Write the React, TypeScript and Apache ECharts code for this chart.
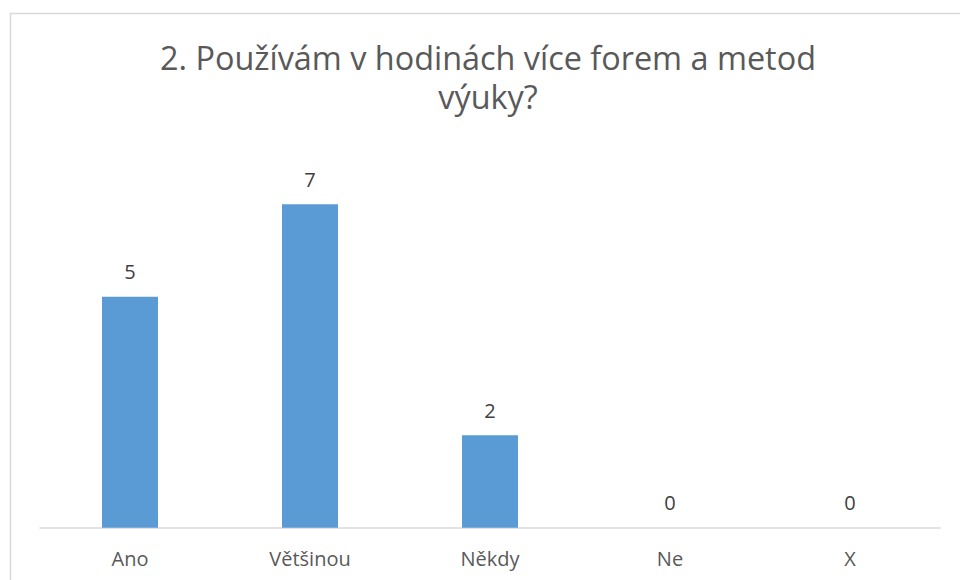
import React, { useEffect, useRef } from "react";
import * as echarts from "echarts";

const titleLines = ["2. Používám v hodinách více forem a metod", "výuky?"];
const categories = ["Ano", "Většinou", "Někdy", "Ne", "X"];
const values = [5, 7, 2, 0, 0];

export default function App() {
  const ref = useRef<HTMLDivElement>(null);
  useEffect(() => {
    document.body.style.margin = "0";
    const chart = echarts.init(ref.current!, null, { renderer: "svg" });
    const titleStyle = {
      fontFamily: "Open Sans",
      fontSize: 32.4,
      fontWeight: "normal",
      color: "#595959",
      lineHeight: 34,
    };
    chart.setOption({
      animation: false,
      backgroundColor: "#ffffff",
      title: titleLines.map((t, i) => ({
        text: t,
        left: 488,
        textAlign: "center",
        top: 39.5 + i * 39.8,
        padding: 0,
        textStyle: titleStyle,
      })),
      graphic: [
        {
          type: "rect",
          shape: { x: 10.5, y: 13.5, width: 1000, height: 1000 },
          style: { fill: "none", stroke: "#d9d9d9", lineWidth: 1.5 },
          silent: true,
          z: -1,
        },
      ],
      grid: { left: 40, right: 20, top: 158, bottom: 52.3 },
      xAxis: {
        type: "category",
        data: categories,
        axisLine: { lineStyle: { color: "#d9d9d9", width: 1.5 } },
        axisTick: { show: false },
        axisLabel: {
          fontFamily: "Open Sans",
          fontSize: 20,
          color: "#595959",
          margin: 21,
        },
      },
      yAxis: {
        type: "value",
        min: 0,
        max: 8,
        interval: 1,
        show: false,
        splitLine: { show: false },
      },
      series: [
        {
          type: "bar",
          data: values,
          barWidth: 56,
          itemStyle: { color: "#5b9bd5" },
          label: {
            show: true,
            position: "top",
            distance: 15,
            fontFamily: "Open Sans",
            fontSize: 20,
            color: "#404040",
          },
        },
      ],
    });
    return () => chart.dispose();
  }, []);
  return <div ref={ref} style={{ width: 960, height: 580 }} />;
}
